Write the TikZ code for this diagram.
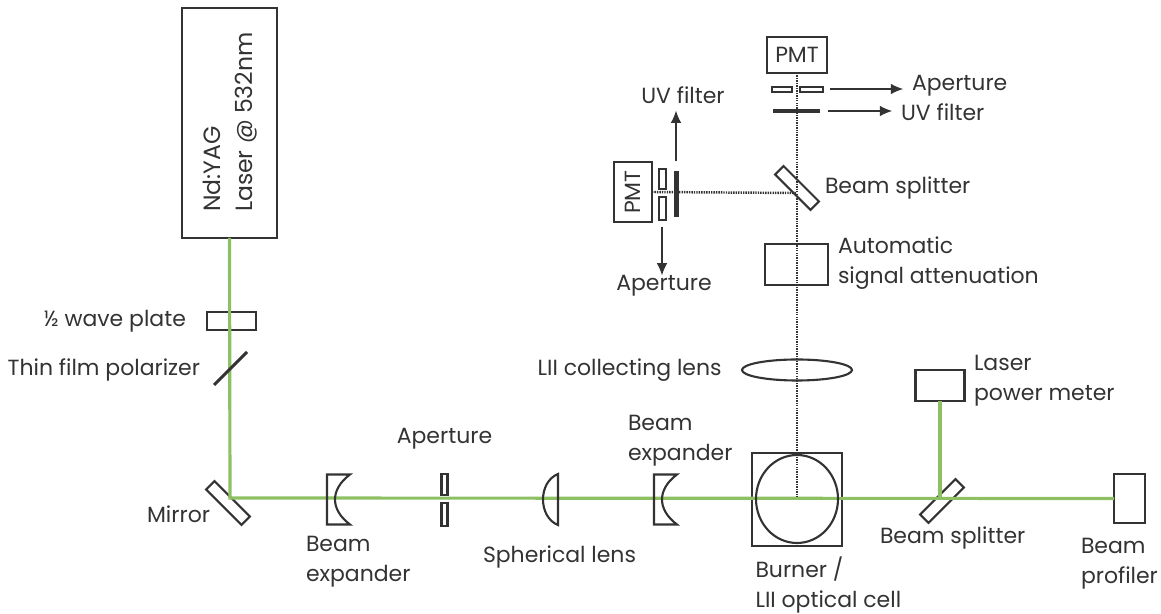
\documentclass[tikz,border=0pt]{standalone}
\usepackage{fontspec}
\setmainfont{Poppins}
\usetikzlibrary{positioning,shapes.geometric,arrows.meta}
\definecolor{inkgray}{HTML}{333333}
\definecolor{beamgreen}{HTML}{8DBF63}
\tikzset{
  part/.style 2 args={draw=inkgray, line width=1.2pt, minimum width=#1*0.02cm, minimum height=#2*0.02cm, inner sep=0pt, outer sep=0pt},
  round part/.style 2 args={draw=inkgray, line width=1.2pt, ellipse, minimum width=#1*0.02cm, minimum height=#2*0.02cm, inner sep=0pt},
  lbl/.style={text=inkgray, font=\fontsize{12.5}{17}\selectfont, inner sep=0pt, outer sep=0pt, align=left},
  beam/.style={draw=beamgreen, line width=1.8pt},
  signal/.style={draw=inkgray, line width=1.4pt, dash pattern=on 0.8pt off 0.6pt},
  pointer/.style={draw=inkgray, line width=0.8pt, -{Latex[length=7pt,width=6pt]}},
  bar/.style={fill=inkgray, inner sep=0pt, outer sep=0pt},
  expander/.pic={\draw[draw=inkgray, line width=1.2pt] (-11,-25) -- (12,-25) .. controls (-8,-10) and (-8,10) .. (12,25) -- (-11,25) -- cycle;},
}
\begin{document}
\begin{tikzpicture}[x=0.02cm, y=-0.02cm]
\useasboundingbox (0,0) rectangle (1161,614);
\coordinate (turn) at (230,498);
\coordinate (split) at (940,498);
\coordinate (focus) at (797,498);
\coordinate (fold) at (797,193);
\node[part={95}{230}] (laser) at (229.5,123) {};
\node[part={49}{18}] (plate) at (231.5,321) {};
\node[part={50}{12}, rotate=-45] (mirror) at (228,503) {};
\node[part={90}{93}] (cell) at (797,499.5) {};
\node[part={49}{31}] (meter) at (940,385.5) {};
\node[part={31}{49}] (profiler) at (1129.5,498.5) {};
\node[part={50}{12}, rotate=45] (bsplit) at (942,501) {};
\node[part={6}{21}] (apera) at (444.5,484.5) {};
\node[part={6}{23}] (aperb) at (444.5,514.5) {};
\draw[beam] (laser.south) -- (turn) -- (profiler.west);
\draw[beam] (split) -- (meter.south);
\draw[draw=inkgray, line width=1.8pt] (214,385) -- (247,352);
\path (338,499.5) pic {expander} (665,499.5) pic {expander};
\draw[draw=inkgray, line width=1.2pt] (558,474) .. controls (538,482) and (538,517) .. (558,525) -- cycle;
\node[round part={82}{88}] (flame) at (797,499) {};
\node[round part={110}{21}] (lens) at (797,370) {};
\node[part={63}{41}] (atten) at (796.5,264.5) {};
\node[part={60}{36}] (pmttop) at (797,55) {\fontsize{12.5}{15}\selectfont\color{inkgray}PMT};
\node[part={38}{60}] (pmtside) at (633,192) {\rotatebox{90}{\fontsize{12.5}{15}\selectfont\color{inkgray}PMT}};
\draw[signal] (pmttop.south) -- (focus);
\draw[signal] (pmtside.east) -- (fold);
\node[part={50}{12}, rotate=-45] (bsplittop) at (797,188) {};
\node[part={20}{5}] (apertopa) at (782,89.5) {};
\node[part={23}{5}] (apertopb) at (811.5,89.5) {};
\node[bar, minimum width=47*0.02cm, minimum height=4.5*0.02cm] (filtertop) at (796.5,111) {};
\node[part={7}{20}] (apersidea) at (662.5,179) {};
\node[part={7}{23}] (apersideb) at (662.5,208.5) {};
\node[bar, minimum width=4.5*0.02cm, minimum height=46*0.02cm] (filterside) at (676.5,194) {};
\node[lbl, rotate=90, anchor=north west, font=\fontsize{13.4}{18}\selectfont] (lasertxt) at (203,212) {Nd:YAG\\Laser @ 532nm};
\node[lbl, left=12pt of plate] (platetxt) {½ wave plate};
\node[lbl, anchor=east] (polartxt) at (200,370) {Thin film polarizer};
\node[lbl, anchor=east] (mirrortxt) at (210,514) {Mirror};
\node[lbl, anchor=north west] (exptxta) at (306,536) {Beam\\expander};
\node[lbl, above=14pt of apera] (apertxt) {Aperture};
\node[lbl, anchor=west] (sphtxt) at (483,557) {Spherical lens};
\node[lbl, anchor=south west] (exptxtb) at (628,466) {Beam\\expander};
\node[lbl, below=6.2pt of cell.south west, anchor=north west, xshift=2pt] (celltxt) {Burner /\\LII optical cell};
\node[lbl, anchor=west] (bsplittxt) at (880,538) {Beam splitter};
\node[lbl, anchor=north west] (proftxt) at (1081,538) {Beam\\profiler};
\node[lbl, anchor=west] (metertxt) at (974,381) {Laser\\power meter};
\node[lbl, left=11pt of lens] (lenstxt) {LII collecting lens};
\node[lbl, anchor=west] (attentxt) at (838,263) {Automatic\\signal attenuation};
\node[lbl, anchor=west] (bstoptxt) at (825,188) {Beam splitter};
\node[lbl] (uvsidetxt) at (683,95) {UV filter};
\node[lbl] (apsidetxt) at (664,286) {Aperture};
\node[lbl, anchor=west] (aptoptxt) at (912,86) {Aperture};
\node[lbl, anchor=west] (uvtoptxt) at (901,112) {UV filter};
\draw[pointer, shorten >=4pt] (676,161) -- (uvsidetxt.south -| 676,0);
\draw[pointer] (662,227) -- (apsidetxt.north -| 662,0);
\draw[pointer, shorten >=5pt] (830,89) -- (aptoptxt.west |- 0,89);
\draw[pointer, shorten >=5pt] (828,111) -- (uvtoptxt.west |- 0,111);
\end{tikzpicture}
\end{document}
